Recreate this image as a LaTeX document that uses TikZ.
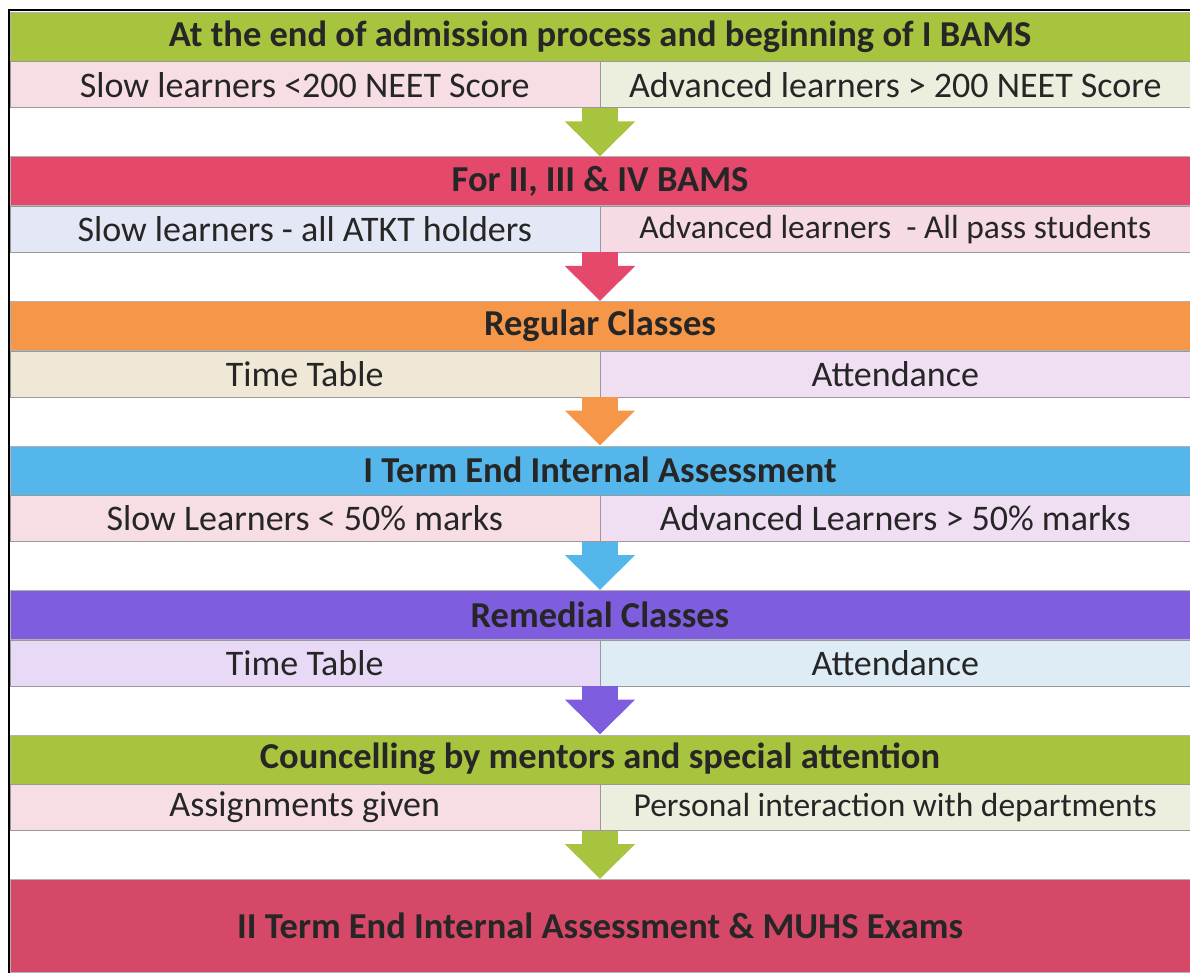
\documentclass[tikz,border=0pt]{standalone}
\usepackage{fontspec}
\setmainfont{Carlito}
\usetikzlibrary{calc, arrows.meta}
\usepackage{xcolor}
\definecolor{hdrGreen}{RGB}{168,196,62}
\definecolor{hdrRed}{RGB}{228,72,106}
\definecolor{hdrOrange}{RGB}{245,150,72}
\definecolor{hdrBlue}{RGB}{84,182,234}
\definecolor{hdrPurple}{RGB}{126,94,222}
\definecolor{hdrCrimson}{RGB}{214,72,104}
\definecolor{cellPink}{RGB}{246,222,228}
\definecolor{cellCream}{RGB}{236,238,222}
\definecolor{cellBlue}{RGB}{228,232,246}
\definecolor{cellRose}{RGB}{246,218,228}
\definecolor{cellSand}{RGB}{240,232,214}
\definecolor{cellLilac}{RGB}{240,222,242}
\definecolor{cellLavender}{RGB}{232,218,246}
\definecolor{cellSky}{RGB}{222,236,246}
\definecolor{txtDark}{RGB}{38,38,38}

\begin{document}
\begin{tikzpicture}[x=1pt, y=-1pt,
	header/.style={rectangle, anchor=north, minimum width=1180pt, minimum height=49pt, inner sep=0pt, draw=black!30, line width=0.5pt, text=txtDark},
	cellL/.style={rectangle, anchor=north east, minimum width=590pt, minimum height=46pt, inner sep=0pt, draw=black!40, line width=0.5pt, text=txtDark},
	cellR/.style={rectangle, anchor=north west, minimum width=590pt, minimum height=46pt, inner sep=0pt, draw=black!40, line width=0.5pt, text=txtDark},
	blockarrow/.style={line width=36pt, -{Triangle[width=68pt,length=35pt]}}]
				\newcommand{\myfonthead}[1]{
					\fontsize{36.5}{40}\selectfont\bfseries{#1}
				}\newcommand{\myfontcell}[1]{
					\fontsize{36}{40}\selectfont{#1}
				}\newcommand{\myfontsmall}[1]{
					\fontsize{33.5}{40}\selectfont{#1}
				}%Page and outer frame
				\useasboundingbox (0,0) rectangle (1190,973);
				\draw[line width=1.2pt] (1190,10) -- (9,10) -- (9,972) -- (1190,972);
				%Top of every band
				\coordinate (band1) at (600,12);
				\coordinate (band2) at (600,156.5);
				\coordinate (band3) at (600,301);
				\coordinate (band4) at (600,445.5);
				\coordinate (band5) at (600,590);
				\coordinate (band6) at (600,734.5);
				\coordinate (band7) at (600,879);
				%band1
				\node [header, fill=hdrGreen] (hdr1) at (band1) {\myfonthead{At the end of admission process and beginning of I BAMS}};
				\node [cellL, fill=cellPink] (cellL1) at (hdr1.south) {\myfontcell{Slow learners <200 NEET Score}};
				\node [cellR, fill=cellCream] (cellR1) at (hdr1.south) {\myfontcell{Advanced learners > 200 NEET Score}};
				%band2
				\node [header, fill=hdrRed] (hdr2) at (band2) {\myfonthead{For II, III \& IV BAMS}};
				\node [cellL, fill=cellBlue] (cellL2) at (hdr2.south) {\myfontcell{Slow learners - all ATKT holders}};
				\node [cellR, fill=cellRose] (cellR2) at (hdr2.south) {\myfontsmall{Advanced learners\ \ - All pass students}};
				%band3
				\node [header, fill=hdrOrange] (hdr3) at (band3) {\myfonthead{Regular Classes}};
				\node [cellL, fill=cellSand] (cellL3) at (hdr3.south) {\myfontcell{Time Table}};
				\node [cellR, fill=cellLilac] (cellR3) at (hdr3.south) {\myfontcell{Attendance}};
				%band4
				\node [header, fill=hdrBlue] (hdr4) at (band4) {\myfonthead{I Term End Internal Assessment}};
				\node [cellL, fill=cellPink] (cellL4) at (hdr4.south) {\myfontcell{Slow Learners < 50\% marks}};
				\node [cellR, fill=cellLilac] (cellR4) at (hdr4.south) {\myfontcell{Advanced Learners > 50\% marks}};
				%band5
				\node [header, fill=hdrPurple] (hdr5) at (band5) {\myfonthead{Remedial Classes}};
				\node [cellL, fill=cellLavender] (cellL5) at (hdr5.south) {\myfontcell{Time Table}};
				\node [cellR, fill=cellSky] (cellR5) at (hdr5.south) {\myfontcell{Attendance}};
				%band6
				\node [header, fill=hdrGreen] (hdr6) at (band6) {\myfonthead{Councelling by mentors and special attention}};
				\node [cellL, fill=cellPink] (cellL6) at (hdr6.south) {\myfontcell{Assignments given}};
				\node [cellR, fill=cellCream] (cellR6) at (hdr6.south) {\myfontsmall{Personal interaction with departments}};
				%band7
				\node [header, fill=hdrCrimson, minimum height=93pt] (hdr7) at (band7) {\myfonthead{II Term End Internal Assessment \& MUHS Exams}};
				%Arrows between the bands
				\draw [blockarrow, hdrGreen] (cellL1.south east) -- (cellL1.south east |- hdr2.north);
				\draw [blockarrow, hdrRed] (cellL2.south east) -- (cellL2.south east |- hdr3.north);
				\draw [blockarrow, hdrOrange] (cellL3.south east) -- (cellL3.south east |- hdr4.north);
				\draw [blockarrow, hdrBlue] (cellL4.south east) -- (cellL4.south east |- hdr5.north);
				\draw [blockarrow, hdrPurple] (cellL5.south east) -- (cellL5.south east |- hdr6.north);
				\draw [blockarrow, hdrGreen] (cellL6.south east) -- (cellL6.south east |- hdr7.north);
\end{tikzpicture}
\end{document}
